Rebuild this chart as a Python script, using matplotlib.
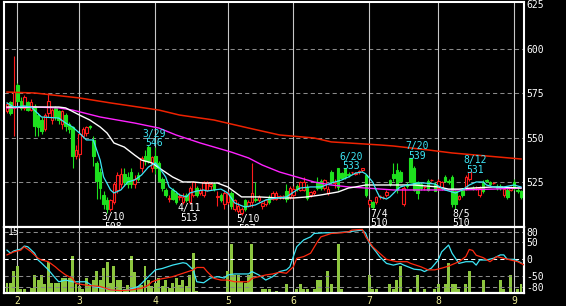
import matplotlib
matplotlib.use('Agg')
import matplotlib.pyplot as plt
from matplotlib.patches import Rectangle
import numpy as np

plt.rcParams['font.family'] = ['DejaVu Sans Mono', 'DejaVu Sans']

# ---------------- data ----------------
opens = [565, 570, 567, 580, 571, 567, 570, 566, 568, 563,
         560, 555, 564, 560, 567, 565, 558, 563, 558, 556,
         540, 541, 551, 553, 557, 549, 536, 531, 518, 515,
         510, 514, 521, 524, 530, 528, 531, 524, 529, 533,
         540, 545, 533, 540, 536, 527, 521, 516, 521, 519,
         517, 514, 518, 514, 518, 522, 519, 518, 521, 523,
         524, 517, 518, 513, 514, 519, 510, 509, 508, 515,
         512, 514, 516, 515, 512, 513, 517, 516, 516, 517,
         517, 520, 517, 518, 523, 521, 521, 522.5, 518, 519,
         525, 526, 522, 519, 531, 524.5, 533, 530.5, 533, 530,
         530.8, 530, 531, 532, 529, 513, 514, 514, 517, 516.8,
         518, 526.5, 530, 532, 531, 513, 524, 539, 533, 525,
         524, 522, 526, 526.2, 524, 522, 522, 528, 526, 528,
         520, 516, 521, 522, 527, 522, 522, 518, 525, 526.5,
         525, 524.7, 523, 523, 518, 521, 521, 525, 521, 520]
highs = [570, 571, 596, 581, 573, 574, 571, 572, 569, 564,
         562, 564, 575, 567, 568, 566, 566, 564, 559, 557,
         546, 553, 556, 557, 557.5, 551, 537, 533, 520, 517,
         516, 525, 531, 533, 533, 531, 533, 529, 531, 540,
         543, 546, 540, 545, 537, 528, 522, 518, 522, 520,
         519, 519, 519, 523, 526, 523, 522, 526, 526, 525,
         525, 520, 519, 521, 520, 520, 516, 514, 511, 516,
         515, 536, 525, 518, 514, 516, 518, 520, 520, 518,
         518, 524, 523, 523, 524, 526, 528, 524, 520, 521,
         528, 527, 527, 523, 532, 527, 533, 531, 533, 531,
         531, 531, 532, 533, 530, 516, 514.5, 517.5, 518, 517.5,
         521, 527, 536, 536, 532, 523, 525, 539, 534, 526,
         525, 523, 527, 527, 525, 527, 526, 529, 527, 529,
         521, 518, 522, 529, 531, 523, 523, 523, 526.5, 527,
         526, 525, 524, 524, 522, 522, 523, 527, 522, 521]
lows = [564, 563, 551, 570, 566, 566, 565, 565, 551, 551,
        552, 554, 562, 558, 560, 558, 555, 554, 553, 533,
        538, 539, 550, 551, 555, 534, 516, 516, 510, 508,
        509, 513, 519, 522, 523, 522, 522, 522, 526, 531,
        535, 536, 531, 530, 525, 520, 517, 514, 515, 513,
        515, 513, 514, 513, 517, 517, 518, 517, 520, 521,
        520, 512, 514, 510, 513, 510, 509, 508, 507, 509,
        511, 511, 514, 514, 510, 512, 513, 515, 515, 516,
        516, 514, 516, 516, 520, 520, 520, 515, 517, 518,
        521, 521, 521, 518, 524, 522, 521, 527, 527, 528,
        530, 529, 530, 531, 517, 511, 510, 513, 516, 516,
        517, 523, 526, 519, 525, 512, 522, 525, 520, 516,
        521, 521, 520, 526, 520, 521, 521, 525, 524, 511,
        510, 515, 517, 521, 526, 521, 521, 517, 519, 525,
        523, 524, 521, 521, 517, 516, 520, 521, 519, 515.5]
closes = [569, 564, 576, 571, 567, 573, 566, 570, 557, 556,
          554, 563, 571, 566, 562, 560, 565, 557, 555, 540,
          543, 552, 555, 556, 556, 540, 526, 522, 513, 510,
          515, 524, 529, 530, 525, 524, 524, 527, 527, 539,
          537, 537, 539.5, 533, 526, 522, 518, 516.5, 516, 514,
          517.5, 517, 515, 522, 525, 518, 521, 525, 525, 524,
          521.5, 517.5, 515, 519, 519, 512, 515, 512, 510, 510,
          514, 519, 515, 517, 513.5, 515, 514, 519, 519, 517.5,
          517.2, 515.5, 522, 521.5, 521.5, 525, 525, 516.5, 519.5, 520,
          522, 522, 526.5, 521.5, 525, 525, 522.5, 527.5, 528, 529,
          531, 530.5, 531.5, 533, 518, 515, 511, 517, 517.2, 517,
          519.5, 524, 527.5, 521, 526, 522, 523, 525.5, 521, 519,
          522, 522.3, 521, 526.4, 520.5, 526, 525, 526, 525, 513,
          513, 517.5, 518, 528, 531, 521.5, 522.1, 522, 520, 526,
          524, 524.8, 522, 522, 521.5, 517, 522, 522, 520, 517]
volume = [2.2, 2.2, 5.1, 6.1, 0.9, 0.9, 0.3, 1.1, 4.1, 3.0,
          4.1, 2.0, 7.0, 2.2, 2.2, 2.2, 3.3, 3.3, 3.3, 8.3,
          2.0, 1.5, 0.8, 3.3, 1.5, 3.0, 5.0, 3.0, 5.6, 7.1,
          2.2, 6.2, 3.0, 3.0, 0.9, 1.9, 8.3, 4.7, 1.5, 1.9,
          6.2, 3.0, 1.5, 2.2, 3.3, 1.5, 3.0, 1.1, 2.2, 3.3,
          1.9, 3.0, 1.5, 4.1, 9.2, 0.5, 0.3, 0.3, 0.3, 0.3,
          0.3, 0.3, 0.3, 0.3, 5.0, 11.1, 4.2, 4.1, 2.6, 2.2,
          4.1, 11.1, 0.3, 0.3, 0.8, 0.8, 0.8, 0.3, 0.5, 0.3,
          0.3, 2.0, 0.3, 0.3, 0.9, 2.0, 0.8, 0.9, 0.3, 0.8,
          3.0, 3.0, 0.3, 5.0, 2.0, 0.3, 11.1, 0.8, 0.3, 0.3,
          0.3, 0.3, 0.3, 0.3, 0.3, 4.1, 0.8, 0.8, 0.3, 0.3,
          0.3, 2.0, 0.8, 3.0, 6.2, 0.3, 0.3, 0.9, 0.3, 4.1,
          0.3, 0.9, 0.3, 0.3, 0.8, 2.0, 0.3, 2.0, 6.9, 2.0,
          2.0, 0.8, 0.3, 2.0, 5.0, 0.3, 0.3, 0.3, 3.0, 0.3,
          0.3, 0.3, 0.3, 3.0, 0.8, 0.3, 4.1, 0.3, 0.8, 2.0]

# moving averages (day index, price)
ma_short_idx = [0, 2, 5, 7, 10, 15, 17, 19, 21, 23, 25, 27, 28, 30, 31, 33, 35, 37, 39, 41,
                43, 44, 46, 47, 49, 50, 52, 53, 55, 57, 58, 60, 62, 64, 66, 69, 72, 75, 78, 81,
                84, 85, 88, 91, 94, 97, 99, 101, 103, 104, 106, 107, 108, 110, 111, 113, 114, 116, 119, 121,
                124, 127, 130, 132, 134, 136, 138, 139, 141, 144, 147, 149]
ma_short_val = [569.7, 567.4, 568.0, 567.4, 561.8, 561.2, 558.4, 556.2, 552.8, 548.9, 548.9, 537.6, 528.1, 520.8, 519.1, 520.8, 525.3, 526.4, 529.2, 533.7,
                536.0, 533.7, 528.1, 522.5, 519.7, 518.0, 516.9, 519.1, 520.2, 520.8, 520.2, 520.8, 521.3, 519.1, 513.5, 511.2, 512.4, 515.2, 516.3, 516.9,
                520.8, 521.9, 522.5, 522.5, 524.7, 526.4, 528.1, 530.3, 530.9, 529.8, 525.3, 520.8, 516.9, 515.7, 516.9, 520.8, 522.5, 523.6, 524.7, 524.7,
                524.2, 520.8, 519.1, 520.8, 523.6, 525.3, 525.3, 523.6, 522.5, 522.5, 523.6, 522.5]
ma_mid_idx = [0, 15, 17, 21, 24, 27, 29, 31, 34, 37, 39, 42, 45, 48, 51, 54, 57, 61, 64, 66,
              68, 73, 79, 83, 87, 91, 96, 99, 101, 104, 112, 118, 125, 128, 131, 135, 141, 149]
ma_mid_val = [567.4, 567.4, 566.9, 562.9, 560.1, 556.2, 552.8, 547.2, 544.9, 540.4, 537.6, 536.0, 532.0, 528.1, 525.3, 525.3, 524.7, 524.7, 522.5, 519.7,
              516.9, 516.9, 516.3, 516.3, 516.9, 518.0, 519.7, 521.9, 522.5, 523.6, 523.6, 523.6, 522.5, 521.3, 521.3, 521.9, 522.5, 521.9]
ma_long_idx = [0, 8, 15, 19, 27, 37, 44, 49, 56, 65, 70, 74, 79, 84, 89, 94, 99, 104, 112, 125, 131, 141, 149]
ma_long_val = [566.9, 567.4, 566.9, 565.7, 561.8, 558.4, 555.6, 551.7, 547.2, 542.1, 538.8, 534.8, 530.9, 528.1, 525.3, 523.6, 522.5, 521.9, 520.8, 520.8, 520.8, 521.3, 521.9]
ma_vlong_idx = [0, 8, 13, 21, 30, 44, 50, 60, 70, 79, 89, 94, 99, 108, 112, 122, 129, 139, 149]
ma_vlong_val = [575.8, 575.3, 574.2, 572.5, 569.7, 565.7, 562.9, 560.1, 555.6, 551.7, 550.0, 547.8, 547.2, 546.1, 545.5, 543.3, 541.6, 539.9, 538.2]

# oscillator (lower panel)
osc_a_idx = [0, 1, 2, 4, 5, 6, 8, 9, 10, 12, 14, 15, 17, 19, 20, 23, 25, 28, 30, 32,
             35, 38, 39, 41, 43, 45, 48, 51, 52, 54, 55, 57, 59, 61, 63, 64, 66, 70, 71, 73,
             75, 77, 79, 81, 82, 83, 84, 86, 88, 89, 92, 95, 99, 103, 104, 105, 107, 108, 110, 112,
             114, 115, 118, 120, 121, 123, 125, 126, 128, 129, 131, 133, 135, 136, 137, 139, 141, 143, 144, 145,
             147, 149]
osc_a_val = [27, 18, 25, 30, 39, 37, 18, -2, -11, -31, -55, -66, -61, -66, -66, -66, -80, -85, -90, -92,
             -90, -80, -71, -51, -31, -27, -17, -10, -12, -31, -66, -69, -55, -51, -55, -46, -43, -43, -36, -46,
             -61, -51, -36, -31, -22, 8, 37, 57, 66, 76, 78, 78, 81, 86, 76, 47, 22, 8, -12, -17,
             -12, -17, -29, -31, -36, -26, -2, 22, 42, 18, -12, -7, -7, -17, -2, -2, 3, 13, 13, 0,
             0, -10]
osc_b_idx = [0, 2, 4, 5, 7, 9, 10, 12, 14, 15, 17, 19, 20, 23, 27, 30, 33, 36, 39, 41,
             42, 44, 48, 51, 54, 55, 57, 58, 60, 62, 64, 66, 70, 71, 73, 75, 77, 79, 81, 83,
             84, 86, 88, 90, 91, 94, 97, 99, 100, 103, 104, 106, 108, 110, 113, 116, 117, 120, 122, 124,
             126, 128, 131, 133, 134, 135, 136, 138, 140, 142, 144, 146, 148, 150]
osc_b_val = [13, 22, 27, 37, 22, 3, -2, -7, -22, -31, -46, -56, -71, -76, -80, -90, -92, -90, -85, -76,
             -66, -59, -51, -41, -31, -24, -24, -36, -56, -61, -61, -66, -66, -56, -51, -46, -43, -38, -41, -22,
             3, 8, 18, 52, 66, 76, 78, 81, 86, 88, 66, 37, 18, 0, -7, -7, -12, -22, -31, -31,
             -26, -20, -7, 8, 29, 26, 12, 5, -7, 8, 3, -2, -7, -17]

month_labels = ['2', '3', '4', '5', '6', '7', '8', '9']
month_start_idx = [3, 21, 43, 64, 83, 105, 125, 147]
price_ticks = [525, 550, 575, 600, 625]
osc_ticks = [80, 50, 0, -50, -80]
volume_top_label = '15'
mark_dates = ['3/10', '3/29', '4/11', '5/10', '6/20', '7/4', '7/20', '8/5', '8/12']
mark_idx = [29, 41, 51, 68, 98, 106, 117, 130, 134]
mark_kind = ['low', 'high', 'low', 'low', 'high', 'low', 'high', 'low', 'high']

# ---------------- style ----------------
UP = '#ff1c1c'
DN = '#1ee01e'
VOL = '#8dc63f'
CYAN = '#3ee6f6'
MAG = '#ff22ff'
REDMA = '#ee2200'
GRID_H = '#8a8a8a'
GRID_V = '#c8c8c8'
MONTH_C = '#ecec96'
FS = 7

W, H = 566, 306
fig = plt.figure(figsize=(W / 100, H / 100), dpi=100, facecolor='black')


def frac(l, t, r, b):
    return [l / W, 1 - b / H, (r - l) / W, (b - t) / H]


ax = fig.add_axes(frac(4, 2, 524, 227), facecolor='black')
ax2 = fig.add_axes(frac(4, 227, 524, 293), facecolor='black')
ax3 = ax2.twinx()

n = len(closes)
xlo, xhi = -0.87, 149.86
for a in (ax, ax2, ax3):
    a.set_xlim(xlo, xhi)

ax.set_ylim(500, 626.4)
ax2.set_ylim(0, 15)
ax3.set_ylim(-99, 95)

# grid
for p in price_ticks[:-1]:
    ax.axhline(p, color=GRID_H, lw=0.75, ls=(0, (4, 3)), zorder=1)
for m in month_start_idx:
    ax.axvline(m, color=GRID_V, lw=0.8, zorder=1)
    ax2.axvline(m, color=GRID_V, lw=0.8, zorder=1)
for t in osc_ticks:
    ax3.axhline(t, color=('white' if t == 0 else GRID_H), lw=0.75, ls=(0, (4, 3)), zorder=1)

# candles
for i, (o, h, l, c) in enumerate(zip(opens, highs, lows, closes)):
    up = c >= o
    col = UP if up else DN
    ax.vlines(i, l, h, color=col, lw=0.8, zorder=2)
    lo_, hi_ = min(o, c), max(o, c)
    if hi_ - lo_ < 0.4:
        ax.hlines(c, i - 0.38, i + 0.38, color=col, lw=0.9, zorder=3)
    else:
        ax.add_patch(Rectangle((i - 0.37, lo_), 0.74, hi_ - lo_,
                               facecolor=('black' if up else col), edgecolor=col,
                               lw=0.8, zorder=3))

# moving averages
ax.plot(ma_vlong_idx, ma_vlong_val, color=REDMA, lw=1.1, zorder=4)
ax.plot(ma_long_idx, ma_long_val, color=MAG, lw=1.0, zorder=4)
ax.plot(ma_mid_idx, ma_mid_val, color='white', lw=1.0, zorder=4)
ax.plot(ma_short_idx, ma_short_val, color=CYAN, lw=0.9, zorder=5)

# high / low marks
for d, i, k in zip(mark_dates, mark_idx, mark_kind):
    if k == 'low':
        v = lows[i]
        col = 'white'
        offs = (-7.5, -17.0)
    else:
        v = highs[i]
        col = CYAN
        offs = (8.5, -1.0)
    ax.annotate(d, (i, v), xytext=(6, offs[0]), textcoords='offset pixels',
                ha='center', va='baseline', color=col, fontsize=FS,
                clip_on=True, zorder=6)
    ax.annotate(f'{v:.0f}', (i, v), xytext=(6, offs[1]), textcoords='offset pixels',
                ha='center', va='baseline', color=col, fontsize=FS,
                clip_on=True, zorder=6)

# volume and oscillator
ax2.bar(np.arange(n), volume, width=0.85, color=VOL, zorder=2)
ax3.plot(osc_a_idx, osc_a_val, color=CYAN, lw=0.9, zorder=3)
ax3.plot(osc_b_idx, osc_b_val, color='#ff2a10', lw=0.9, zorder=3)
ax2.text(0.008, 0.875, volume_top_label, transform=ax2.transAxes, color='white',
         fontsize=FS, ha='left', va='baseline')

# ticks
ax.set_xticks([])
ax.yaxis.tick_right()
ax.set_yticks(price_ticks)
ax.set_yticklabels([str(p) for p in price_ticks])
ax.tick_params(axis='y', length=0, pad=2, labelcolor='white', labelsize=FS)

ax2.set_yticks([])
ax2.set_xticks(month_start_idx)
ax2.set_xticklabels(month_labels)
ax2.tick_params(axis='x', length=0, pad=2, labelcolor=MONTH_C, labelsize=FS)

ax3.set_yticks(osc_ticks)
ax3.set_yticklabels([str(t) for t in osc_ticks])
ax3.tick_params(axis='y', length=0, pad=2, labelcolor='white', labelsize=FS)

for a in (ax, ax2, ax3):
    for s in a.spines.values():
        s.set_color('white')
        s.set_linewidth(1.5)

fig.savefig('out.png', dpi=100, facecolor='black')
